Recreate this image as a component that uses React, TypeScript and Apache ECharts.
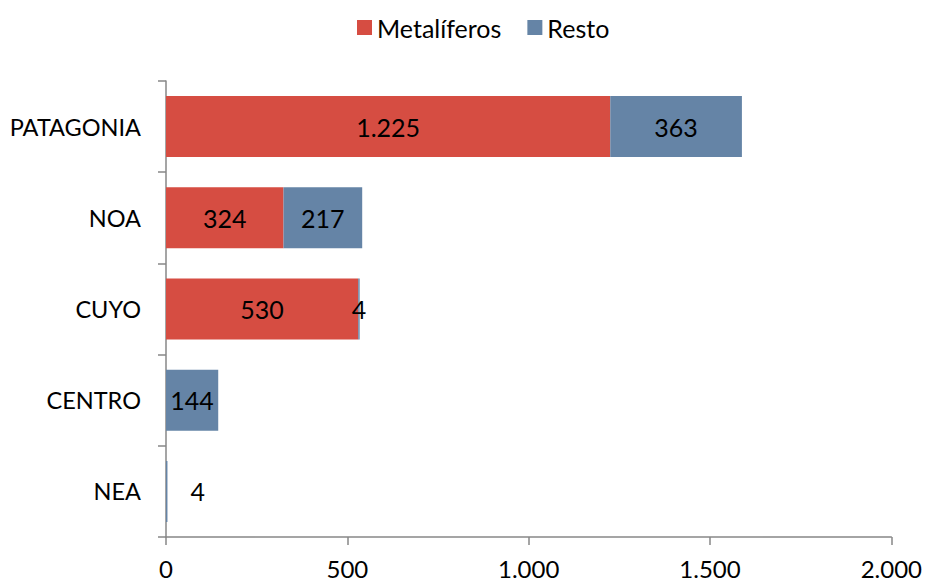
import React, { useEffect, useRef } from "react";
import * as echarts from "echarts";

const regions = ["PATAGONIA", "NOA", "CUYO", "CENTRO", "NEA"];
const metaliferos = [1225, 324, 530, 0, 0];
const resto = [363, 217, 4, 144, 4];
const xTicks = [0, 500, 1000, 1500, 2000];

const RED = "#D64D42";
const BLUE = "#6584A6";
const AXIS = "#878787";
const FONT = "Lato, 'Open Sans', sans-serif";

const fmt = (v: number) => {
  const s = String(Math.round(v));
  return s.replace(/\B(?=(\d{3})+(?!\d))/g, ".");
};

export default function App() {
  const ref = useRef<HTMLDivElement>(null);

  useEffect(() => {
    if (!ref.current) return;
    document.body.style.margin = "0";
    const chart = echarts.init(ref.current, undefined, { renderer: "svg" });
    const label = {
      show: true,
      position: "inside" as const,
      color: "#000",
      fontSize: 25,
      fontFamily: FONT,
      formatter: (p: any) => (p.value ? fmt(p.value) : ""),
    };
    chart.setOption({
      animation: false,
      textStyle: { fontFamily: FONT },
      legend: {
        top: 10,
        left: 352,
        itemWidth: 15,
        itemHeight: 15,
        itemGap: 26,
        icon: "rect",
        textStyle: { fontSize: 25, color: "#000", fontFamily: FONT },
        data: ["Metalíferos", "Resto"],
      },
      grid: { left: 166, right: 32, top: 81, bottom: 44, containLabel: false },
      xAxis: {
        type: "value",
        min: xTicks[0],
        max: xTicks[xTicks.length - 1],
        interval: 500,
        axisLine: { show: true, lineStyle: { color: AXIS, width: 1.5 } },
        axisTick: { show: true, length: 8, lineStyle: { color: AXIS, width: 1.5 } },
        splitLine: { show: false },
        axisLabel: {
          color: "#000",
          fontSize: 24,
          lineHeight: 22,
          fontFamily: FONT,
          margin: 20,
          formatter: (v: number) => fmt(v),
        },
      },
      yAxis: {
        type: "category",
        inverse: true,
        data: regions,
        axisLine: { show: true, lineStyle: { color: AXIS, width: 1.5 } },
        axisTick: { show: true, length: 8, lineStyle: { color: AXIS, width: 1.5 } },
        axisLabel: { color: "#000", fontSize: 23.5, fontFamily: FONT, margin: 25 },
      },
      series: [
        {
          name: "Metalíferos",
          type: "bar",
          stack: "total",
          barWidth: 61,
          itemStyle: { color: RED },
          label,
          data: metaliferos,
        },
        {
          name: "Resto",
          type: "bar",
          stack: "total",
          barWidth: 61,
          itemStyle: { color: BLUE },
          label,
          data: resto.map((v, i) =>
            regions[i] === "NEA"
              ? { value: v, label: { position: "right", distance: 23 } }
              : v
          ),
        },
      ],
    });
    return () => chart.dispose();
  }, []);

  return <div ref={ref} style={{ width: 925, height: 581 }} />;
}
